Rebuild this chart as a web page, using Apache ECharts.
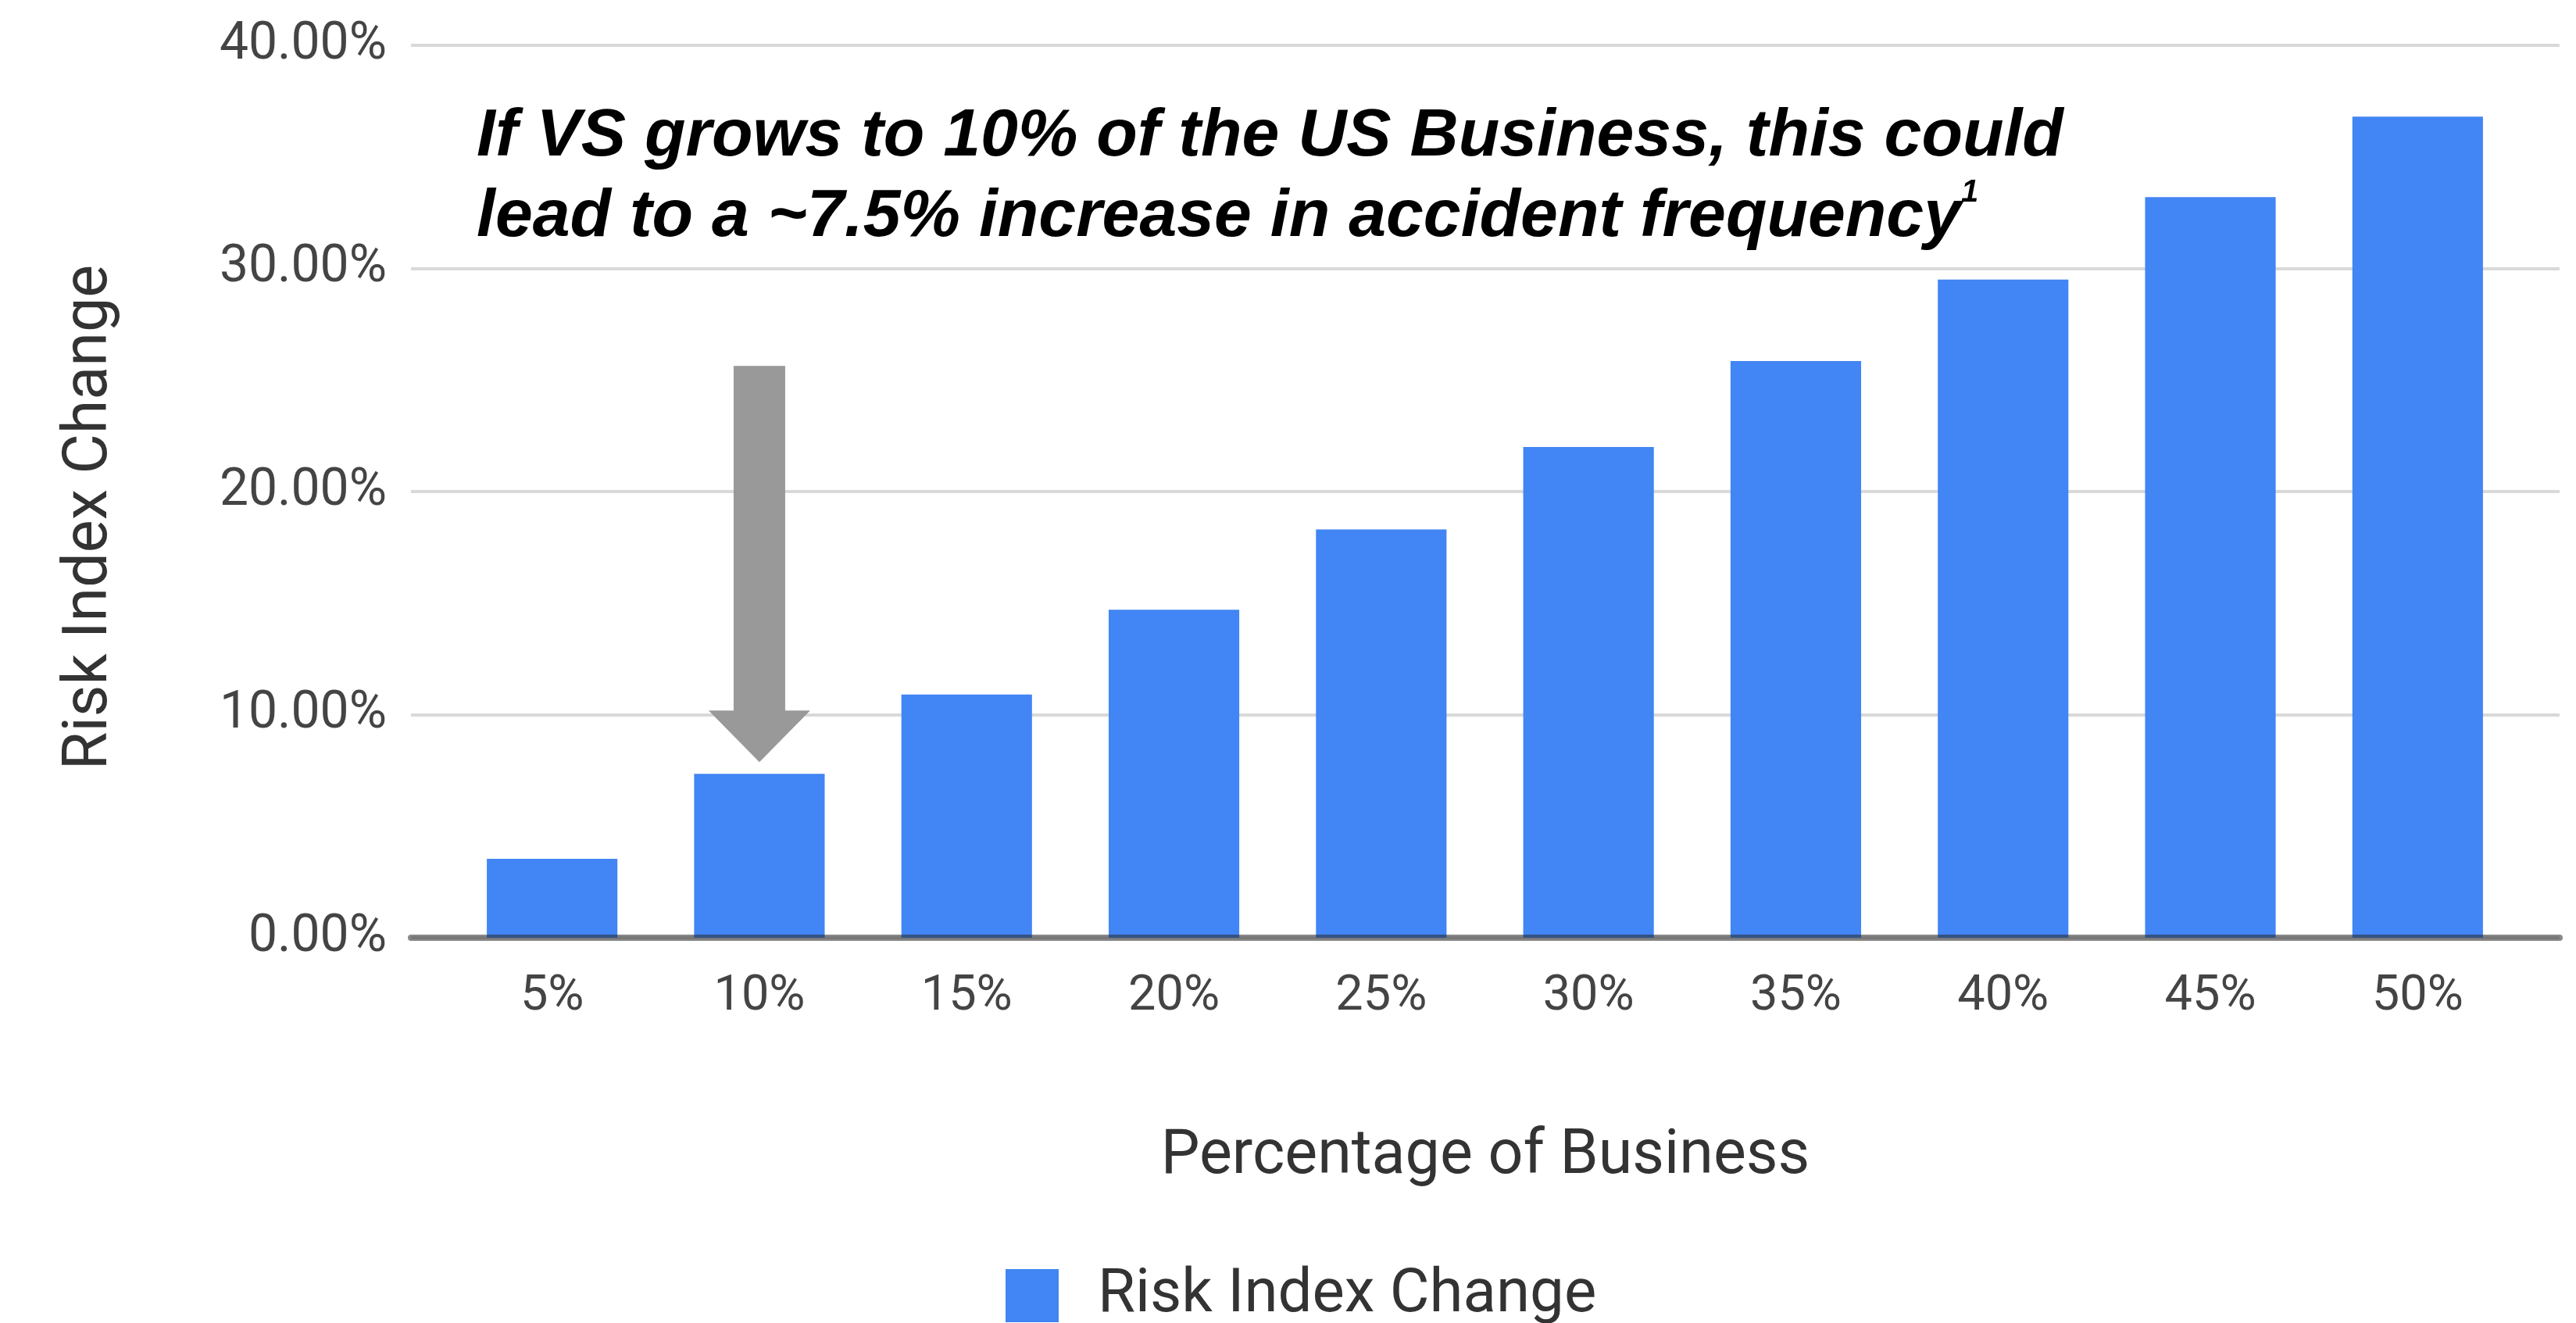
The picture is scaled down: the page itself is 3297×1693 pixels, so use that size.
<!DOCTYPE html>
<html>
<head>
<meta charset="utf-8">
<title>Risk Index Change</title>
<script src="https://cdn.jsdelivr.net/npm/echarts@6.0.0/dist/echarts.min.js"></script>
<style>
  html, body { margin: 0; padding: 0; background: #fff; }
  #chart { width: 3297px; height: 1693px; }
</style>
</head>
<body>
<div id="chart"></div>
<script>
// percentage of business vs. risk index change
const categories = ["5%", "10%", "15%", "20%", "25%", "30%", "35%", "40%", "45%", "50%"];
const riskChange = [3.54, 7.35, 10.9, 14.7, 18.3, 22.0, 25.85, 29.5, 33.2, 36.8];
const yMin = 0;
const yMax = 40;
const yStep = 10;
const arrowTarget = "10%";

const labelFont = "Roboto, 'Liberation Sans', sans-serif";

const option = {
  animation: false,
  backgroundColor: "#ffffff",
  title: {
    text: "If VS grows to 10% of the US Business, this could\nlead to a ~7.5% increase in accident frequency{sup|1}",
    left: 610,
    top: 124,
    padding: 0,
    textStyle: {
      fontFamily: "'Liberation Sans', Arial, sans-serif",
      fontWeight: "bold",
      fontStyle: "italic",
      fontSize: 86,
      lineHeight: 103,
      color: "#000",
      rich: {
        sup: {
          fontFamily: "'Liberation Sans', Arial, sans-serif",
          fontWeight: "bold",
          fontStyle: "italic",
          fontSize: 40,
          lineHeight: 60,
          verticalAlign: "top",
          color: "#000",
        },
      },
    },
  },
  legend: {
    data: ["Risk Index Change"],
    left: 1287,
    top: 1619,
    padding: 0,
    icon: "rect",
    itemWidth: 68,
    itemHeight: 68,
    textStyle: {
      fontFamily: labelFont,
      fontSize: 78,
      color: "#333",
      padding: [0, 0, 0, 45],
    },
  },
  // 0: wide grid for gridlines / baseline, 1: bars
  grid: [
    { left: 526, right: 21, top: 58, bottom: 493 },
    { left: 574, right: 70, top: 58, bottom: 493 },
  ],
  xAxis: [
    {
      type: "value",
      gridIndex: 0,
      min: 0,
      max: 1,
      z: 3,
      axisLine: {
        show: true,
        lineStyle: { color: "rgba(40, 40, 40, 0.55)", width: 8 },
      },
      axisTick: { show: false },
      axisLabel: { show: false },
      splitLine: { show: false },
      name: "Percentage of Business",
      nameLocation: "middle",
      nameGap: 242,
      nameTextStyle: {
        fontFamily: labelFont,
        fontSize: 79,
        color: "#333",
      },
    },
    {
      type: "category",
      gridIndex: 1,
      data: categories,
      axisLine: { show: false },
      axisTick: { show: false },
      axisLabel: {
        fontFamily: labelFont,
        fontSize: 63,
        color: "#444",
        margin: 45,
      },
    },
  ],
  yAxis: [
    {
      type: "value",
      gridIndex: 0,
      min: yMin,
      max: yMax,
      interval: yStep,
      axisLine: { show: false },
      axisTick: { show: false },
      axisLabel: {
        fontFamily: labelFont,
        fontSize: 66,
        color: "#444",
        margin: 31,
        formatter: (v) => v.toFixed(2) + "%",
      },
      splitLine: {
        lineStyle: { color: "#d9d9d9", width: 4 },
      },
      name: "Risk Index Change",
      nameLocation: "middle",
      nameGap: 370,
      nameTextStyle: {
        fontFamily: labelFont,
        fontSize: 79,
        color: "#333",
        padding: [0, 66, 0, 0],
      },
    },
    {
      type: "value",
      gridIndex: 1,
      min: yMin,
      max: yMax,
      interval: yStep,
      show: false,
    },
  ],
  series: [
    {
      name: "Risk Index Change",
      type: "bar",
      xAxisIndex: 1,
      yAxisIndex: 1,
      data: riskChange,
      barCategoryGap: "37%",
      itemStyle: { color: "#4285f4" },
    },
  ],
};

const chart = echarts.init(document.getElementById("chart"));
chart.setOption(option);

// grey arrow pointing at the 10% bar
const idx = categories.indexOf(arrowTarget);
const [ax, ay] = chart.convertToPixel({ seriesIndex: 0 }, [arrowTarget, riskChange[idx]]);
const tipY = ay - 15;
const headH = 66;
const headHalf = 65;
const shaftHalf = 33;
const shaftLen = 507;
chart.setOption({
  graphic: [
    {
      type: "polygon",
      z: 10,
      shape: {
        points: [
          [ax, tipY],
          [ax - headHalf, tipY - headH],
          [ax - shaftHalf, tipY - headH],
          [ax - shaftHalf, tipY - shaftLen],
          [ax + shaftHalf, tipY - shaftLen],
          [ax + shaftHalf, tipY - headH],
          [ax + headHalf, tipY - headH],
        ],
      },
      style: { fill: "#999999" },
    },
  ],
});
</script>
</body>
</html>
